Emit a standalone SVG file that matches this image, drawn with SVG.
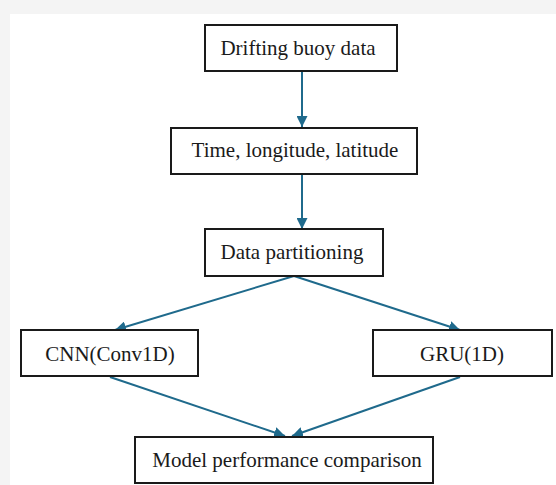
<svg xmlns="http://www.w3.org/2000/svg" width="556" height="485" viewBox="0 0 556 485">
<defs>
<style>
.box{fill:#fff;stroke:#1a1a1a;stroke-width:2}
.lbl{font-family:"Liberation Serif","Times New Roman",serif;font-size:21px;fill:#1a1a1a;text-anchor:middle}
.con{stroke:#1f6a8c;stroke-width:2;fill:none;marker-end:url(#ah)}
</style>
<marker id="ah" viewBox="0 0 10 10" refX="10" refY="5" markerWidth="5.5" markerHeight="5.5" orient="auto" markerUnits="strokeWidth">
<path d="M0,0 L10,5 L0,10 z" fill="#1f6a8c"/>
</marker>
</defs>
<rect x="0" y="0" width="556" height="485" fill="#f4f4f4"/>
<rect x="10" y="14" width="546" height="471" fill="#fff"/>
<g id="connectors">
<line class="con" x1="302" y1="72" x2="302" y2="127"/>
<line class="con" x1="302" y1="175" x2="302" y2="229"/>
<line class="con" x1="294" y1="276" x2="115" y2="330"/>
<line class="con" x1="294" y1="276" x2="460" y2="330"/>
<line class="con" x1="110" y1="377" x2="285" y2="436"/>
<line class="con" x1="460" y1="377" x2="292" y2="436"/>
</g>
<g id="n1"><rect class="box" x="205" y="25" width="192" height="46"/><text class="lbl" x="298" y="55">Drifting buoy data</text></g>
<g id="n2"><rect class="box" x="171" y="128" width="246" height="46"/><text class="lbl" x="295" y="157">Time, longitude, latitude</text></g>
<g id="n3"><rect class="box" x="205" y="229" width="178" height="47"/><text class="lbl" x="292" y="259">Data partitioning</text></g>
<g id="n4"><rect class="box" x="21" y="330" width="177" height="46"/><text class="lbl" x="110" y="361">CNN(Conv1D)</text></g>
<g id="n5"><rect class="box" x="373" y="330" width="179" height="46"/><text class="lbl" x="462" y="361">GRU(1D)</text></g>
<g id="n6"><rect class="box" x="135" y="437" width="298" height="46"/><text class="lbl" x="287" y="467">Model performance comparison</text></g>
</svg>
